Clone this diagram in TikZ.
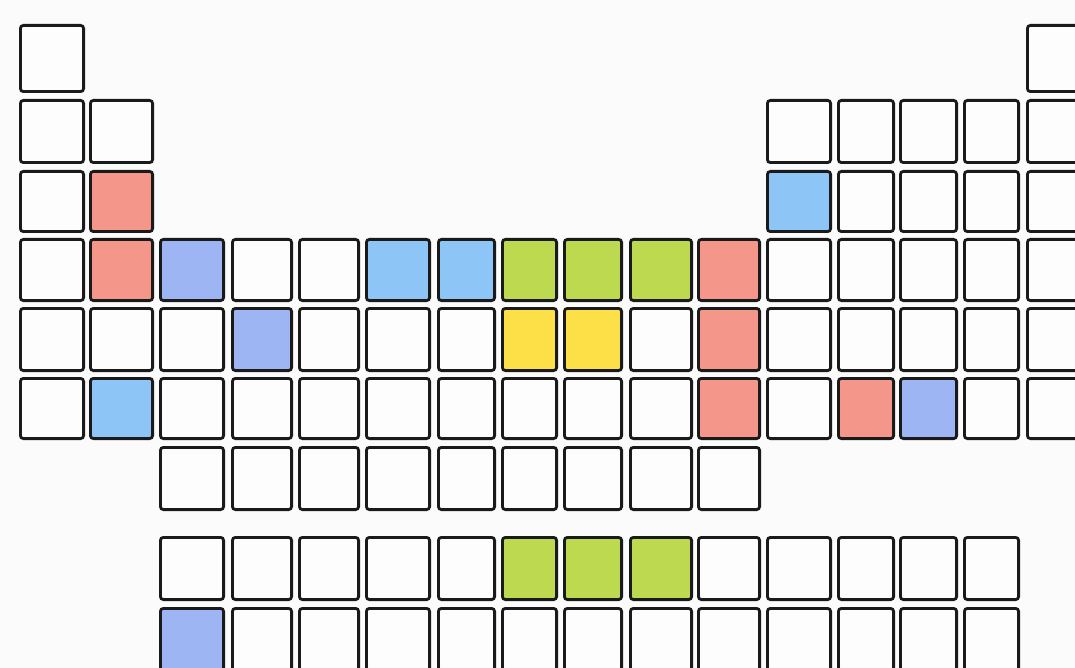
\documentclass[tikz,border=0pt]{standalone}
\usetikzlibrary{positioning}
\definecolor{bgc}{HTML}{FBFBFB}
\definecolor{cellw}{HTML}{FDFDFD}
\definecolor{edge}{HTML}{1A1A1A}
\definecolor{salmon}{HTML}{F4978A}
\definecolor{peri}{HTML}{9DB5F2}
\definecolor{sky}{HTML}{8DC5F6}
\definecolor{lime}{HTML}{BDD94F}
\definecolor{yel}{HTML}{FDE047}
\tikzset{
  cell/.style={draw=edge, line width=2.8pt, rounded corners=3pt, rectangle, inner sep=0pt, outer sep=0pt}
}
\newcommand\cellat[3]{%
  \pgfmathsetmacro\xa{{19,89,159,231,298,365,437,501,563,629,697,766,837,899,963,1026}[#2-1]}%
  \pgfmathsetmacro\xb{{85,154,225,293,360,431,496,558,623,693,761,832,895,958,1020,1092}[#2-1]}%
  \pgfmathsetmacro\ya{{24,99,170,238,307,377,446,536,607}[#1-1]}%
  \pgfmathsetmacro\yb{{93,164,233,302,372,440,511,601,672}[#1-1]}%
  \pgfmathsetmacro\cw{\xb-\xa-2.8}%
  \pgfmathsetmacro\ch{\yb-\ya-2.8}%
  \node[cell, fill=#3, minimum width=\cw pt, minimum height=\ch pt] (c#1-#2) at ({(\xa+\xb)/2},{(\ya+\yb)/2}) {};%
}
\begin{document}
\begin{tikzpicture}[x=1pt,y=-1pt]
\fill[bgc] (0,0) rectangle (1075,668);
\useasboundingbox (0,0) rectangle (1075,668);
\clip (0,0) rectangle (1075,668);
% row 1
\foreach \c in {1,16} {\cellat{1}{\c}{cellw}}
% row 2
\foreach \c in {1,2,12,13,14,15,16} {\cellat{2}{\c}{cellw}}
% row 3
\foreach \c/\f in {1/cellw,2/salmon,12/sky,13/cellw,14/cellw,15/cellw,16/cellw} {\cellat{3}{\c}{\f}}
% row 4
\foreach \c/\f in {1/cellw,2/salmon,3/peri,4/cellw,5/cellw,6/sky,7/sky,8/lime,9/lime,10/lime,11/salmon,12/cellw,13/cellw,14/cellw,15/cellw,16/cellw} {\cellat{4}{\c}{\f}}
% row 5
\foreach \c/\f in {1/cellw,2/cellw,3/cellw,4/peri,5/cellw,6/cellw,7/cellw,8/yel,9/yel,10/cellw,11/salmon,12/cellw,13/cellw,14/cellw,15/cellw,16/cellw} {\cellat{5}{\c}{\f}}
% row 6
\foreach \c/\f in {1/cellw,2/sky,3/cellw,4/cellw,5/cellw,6/cellw,7/cellw,8/cellw,9/cellw,10/cellw,11/salmon,12/cellw,13/salmon,14/peri,15/cellw,16/cellw} {\cellat{6}{\c}{\f}}
% row 7
\foreach \c in {3,...,11} {\cellat{7}{\c}{cellw}}
% row 8
\foreach \c/\f in {3/cellw,4/cellw,5/cellw,6/cellw,7/cellw,8/lime,9/lime,10/lime,11/cellw,12/cellw,13/cellw,14/cellw,15/cellw} {\cellat{8}{\c}{\f}}
% row 9
\foreach \c/\f in {3/peri,4/cellw,5/cellw,6/cellw,7/cellw,8/cellw,9/cellw,10/cellw,11/cellw,12/cellw,13/cellw,14/cellw,15/cellw} {\cellat{9}{\c}{\f}}
\end{tikzpicture}
\end{document}
